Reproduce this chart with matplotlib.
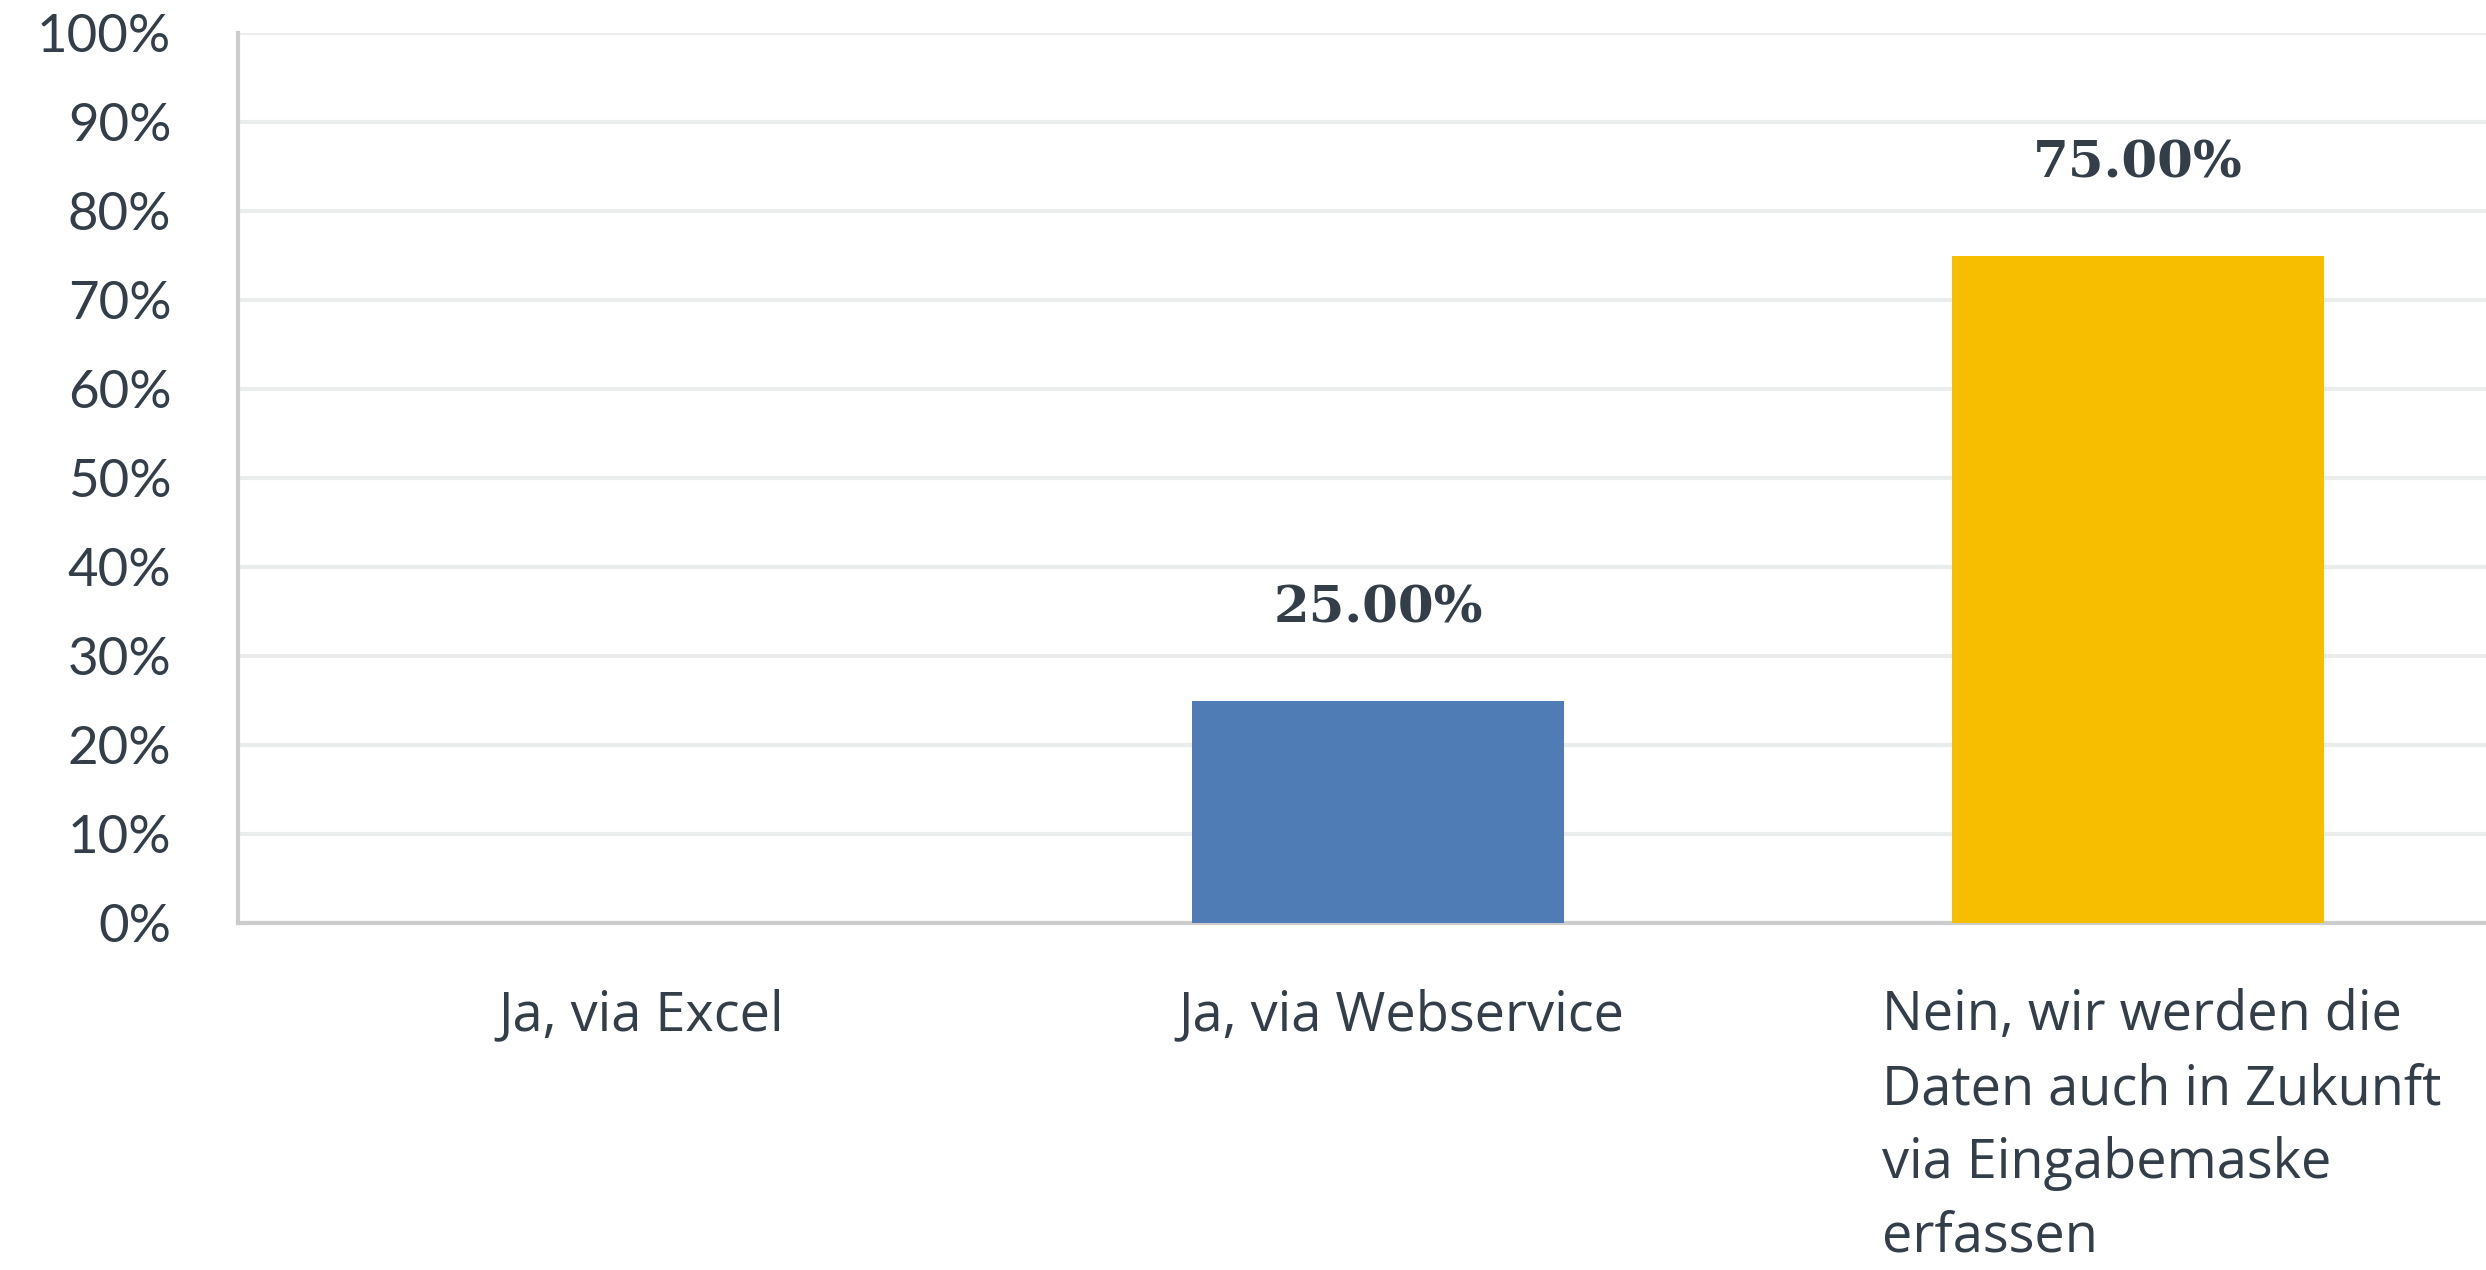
import matplotlib.pyplot as plt

categories = ["Ja, via Excel", "Ja, via Webservice",
              "Nein, wir werden die\nDaten auch in Zukunft\nvia Eingabemaske\nerfassen"]
values = [0, 25, 75]
colors = ["#4f7cb4", "#4f7cb4", "#f7be00"]
yticks = list(range(0, 101, 10))

text_col = "#333e48"

fig = plt.figure(figsize=(24.86, 12.70), dpi=100)
ax = fig.add_axes([238 / 2486, 347 / 1270, 2280 / 2486, 890 / 1270])

x = list(range(len(categories)))
ax.bar(x, values, width=0.49, color=colors, zorder=3)

for xi, v in zip(x, values):
    if v > 0:
        ax.text(xi, v + 10.3, f"{v:.2f}%", ha="center", va="center",
                fontsize=37, fontweight="bold", family="DejaVu Serif",
                color=text_col)

# category labels, a bit right of the bar centres, left-aligned lines
for xi, cat in zip(x, categories):
    ax.annotate(cat, xy=(xi, 0), xycoords=("data", "axes fraction"),
                xytext=(17, -47), textcoords="offset points",
                ha="center", va="top", multialignment="left",
                fontsize=39, family="Open Sans", color=text_col,
                linespacing=1.45, annotation_clip=False)

ax.set_xlim(-0.5, 2.5)
ax.set_ylim(0, 100)
ax.set_yticks(yticks)
ax.set_yticklabels([f"{t}%" for t in yticks], fontsize=38, family="Lato",
                   color=text_col)
ax.set_xticks([])
ax.tick_params(axis="both", length=0)
ax.tick_params(axis="y", pad=48)

ax.grid(axis="y", color="#ebecec", linewidth=3, zorder=0)
for s in ["top", "right"]:
    ax.spines[s].set_visible(False)
ax.spines["left"].set_color("#cccccc")
ax.spines["bottom"].set_color("#cccccc")
ax.spines["left"].set_linewidth(3)
ax.spines["bottom"].set_linewidth(3)

fig.savefig("out.png", dpi=100)
